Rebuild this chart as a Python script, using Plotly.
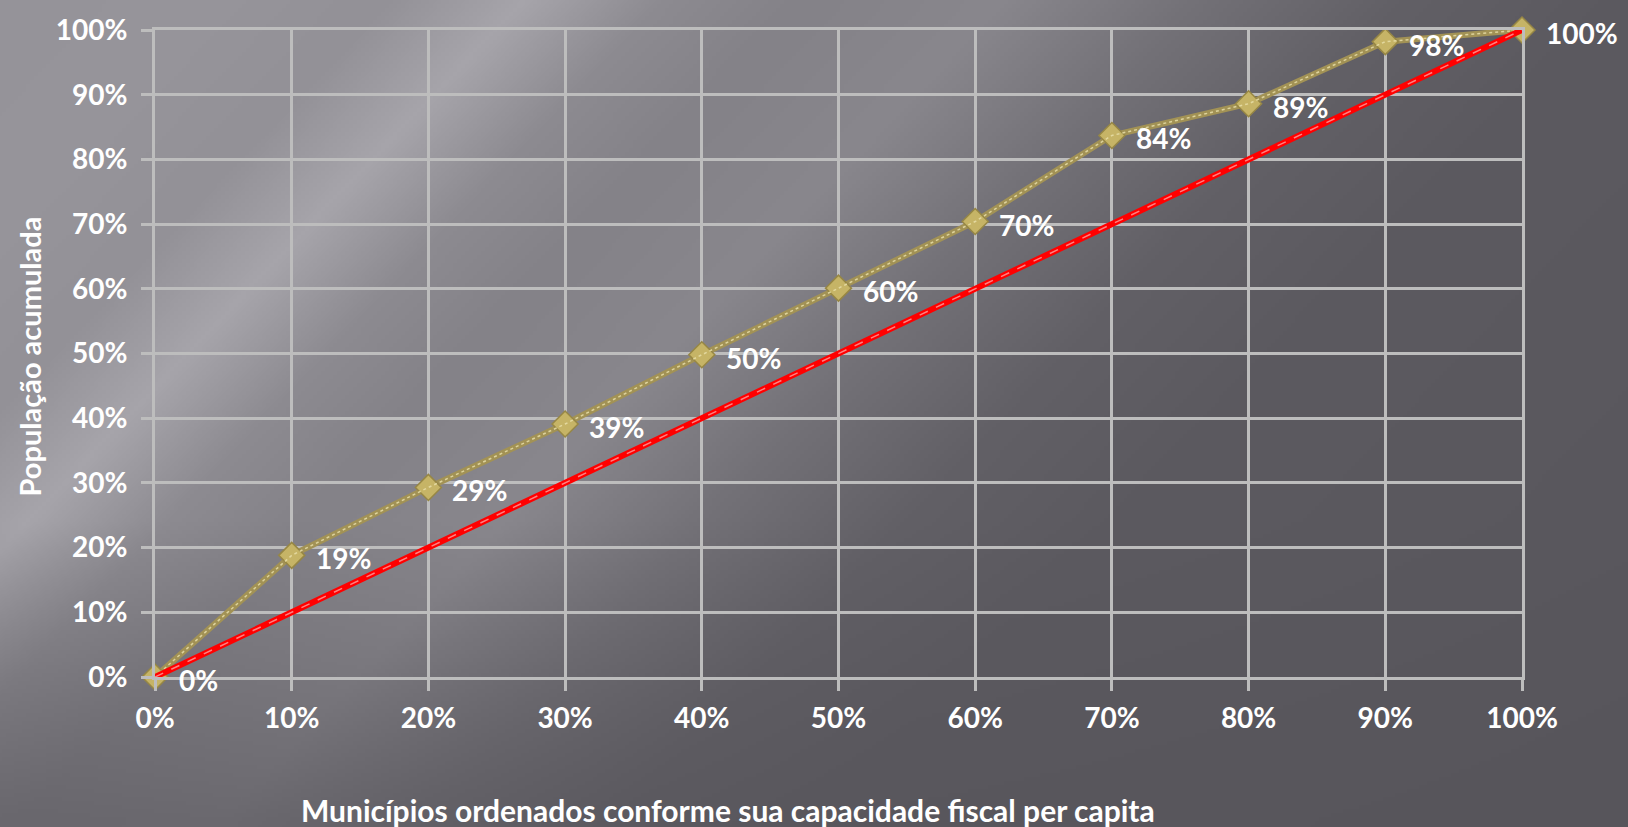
import base64
import struct
import zlib

import numpy as np
import plotly.graph_objects as go

# ---------------- data ----------------
x_share = [0.0, 0.1, 0.2, 0.3, 0.4, 0.5, 0.6, 0.7, 0.8, 0.9, 1.0]
pop_cum = [0.0, 0.188, 0.293, 0.391, 0.498, 0.601, 0.704, 0.837, 0.886, 0.982, 1.0]
equality_x = [0.0, 1.0]
equality_y = [0.0, 1.0]
tick_vals = [0.0, 0.1, 0.2, 0.3, 0.4, 0.5, 0.6, 0.7, 0.8, 0.9, 1.0]
tick_text = ["0%", "10%", "20%", "30%", "40%", "50%", "60%", "70%", "80%", "90%", "100%"]
x_title = "Municípios ordenados conforme sua capacidade fiscal per capita"
y_title = "População acumulada"

# ---------------- layout geometry ----------------
W, H = 1628, 827
ML, MR, MT, MB = 155, 106, 28, 150
PW, PH = W - ML - MR, H - MT - MB
PAD = 12  # background image overscan


# ---------------- background gradient (style only) ----------------
def make_png(arr):
    h, w, _ = arr.shape
    raw = b"".join(b"\x00" + arr[i].tobytes() for i in range(h))

    def chunk(tag, data):
        c = struct.pack(">I", len(data)) + tag + data
        return c + struct.pack(">I", zlib.crc32(tag + data) & 0xFFFFFFFF)

    png = b"\x89PNG\r\n\x1a\n"
    png += chunk(b"IHDR", struct.pack(">IIBBBBB", w, h, 8, 2, 0, 0, 0))
    png += chunk(b"IDAT", zlib.compress(raw, 9))
    png += chunk(b"IEND", b"")
    return "data:image/png;base64," + base64.b64encode(png).decode()


S = 4
BW, BH = W + 2 * PAD, H + 2 * PAD
gw, gh = BW // S + 1, BH // S + 1
yy, xx = np.mgrid[0:gh, 0:gw].astype(float) * S - PAD
c = xx + 0.95 * yy
cp = [0, 200, 380, 520, 660, 800, 1000, 1200, 1400, 1600, 2600]
vp = [150, 152, 148, 168, 142, 133, 138, 116, 99, 93, 88]
val = np.interp(c, cp, vp)
fade = 1 - 0.6 * np.clip((yy - 520) / 300, 0, 1)
val = 88 + (val - 88) * fade
img = np.stack([val - 1, val - 3, val + 3], axis=-1).clip(0, 255).astype(np.uint8)
bg_uri = make_png(img)

GRID = "#bdbdbd"
FONT = "Lato"

fig = go.Figure()

# concentration curve
fig.add_trace(go.Scatter(
    x=x_share, y=pop_cum, mode="lines+markers",
    line=dict(color="#a29255", width=6),
    marker=dict(symbol="diamond", size=20, color="#c6b466",
                line=dict(color="#978745", width=1.5)),
    cliponaxis=False, showlegend=False, hoverinfo="skip",
))
fig.add_trace(go.Scatter(
    x=x_share, y=pop_cum, mode="lines",
    line=dict(color="rgba(232,222,168,0.85)", width=1.5, dash="dot"),
    cliponaxis=False, showlegend=False, hoverinfo="skip",
))
# equality line
fig.add_trace(go.Scatter(
    x=equality_x, y=equality_y, mode="lines",
    line=dict(color="#ff0000", width=6),
    cliponaxis=False, showlegend=False, hoverinfo="skip",
))
fig.add_trace(go.Scatter(
    x=equality_x, y=equality_y, mode="lines",
    line=dict(color="rgba(255,160,160,0.8)", width=1.5, dash="dash"),
    cliponaxis=False, showlegend=False, hoverinfo="skip",
))

annotations = []
for xv, yv in zip(x_share, pop_cum):
    annotations.append(dict(
        x=xv, y=yv, xref="x", yref="y", text=f"{yv * 100:.0f}%",
        showarrow=False, xanchor="left", yanchor="middle", xshift=22, yshift=-3,
        font=dict(family=FONT, size=28, color="white", weight="bold"),
    ))
annotations.append(dict(
    x=(728 - ML) / PW, y=0, xref="paper", yref="paper", text=x_title,
    showarrow=False, xanchor="center", yanchor="middle", yshift=-(810 - (H - MB)),
    font=dict(family=FONT, size=30, color="white", weight="bold"),
))
annotations.append(dict(
    x=0, y=0.5, xref="paper", yref="paper", text=y_title, textangle=-90,
    showarrow=False, xanchor="center", yanchor="middle", xshift=-(ML - 29), yshift=-3,
    font=dict(family=FONT, size=29, color="white", weight="bold"),
))

axis_common = dict(
    range=[0, 1], tickvals=tick_vals, ticktext=tick_text,
    showgrid=True, gridcolor=GRID, gridwidth=3,
    showline=True, linecolor=GRID, linewidth=3, mirror=True,
    ticks="outside", ticklen=11, tickwidth=3, tickcolor=GRID,
    zeroline=False, fixedrange=True,
    tickfont=dict(family=FONT, size=28, color="white", weight="bold"),
)

fig.update_layout(
    width=W, height=H,
    margin=dict(l=ML, r=MR, t=MT, b=MB),
    paper_bgcolor="#8f8c92",
    plot_bgcolor="rgba(0,0,0,0)",
    xaxis=dict(**axis_common, ticklabelstandoff=3),
    yaxis=dict(**axis_common, ticklabelstandoff=8),
    annotations=annotations,
    images=[dict(
        source=bg_uri, xref="paper", yref="paper",
        x=-(ML + PAD) / PW, y=1 + (MT + PAD) / PH, sizex=BW / PW, sizey=BH / PH,
        xanchor="left", yanchor="top", sizing="stretch", layer="below",
    )],
    showlegend=False,
)

fig.write_html("out.html", config={"displayModeBar": False})
